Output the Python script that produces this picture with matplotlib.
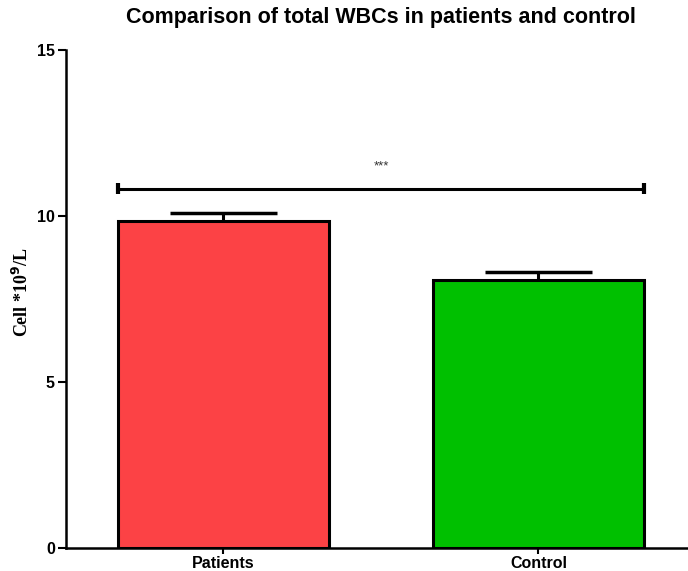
import matplotlib
matplotlib.use("Agg")
import matplotlib.pyplot as plt

categories = ["Patients", "Control"]
means = [9.85, 8.07]
sems = [0.24, 0.24]
colors = ["#FC4245", "#00C000"]
sig_y = 10.82
sig_text = "***"
title = "Comparison of total WBCs in patients and control"
ylabel = r"Cell *10$^{\mathbf{9}}$/L"

plt.rcParams['font.family'] = ['Liberation Sans', 'DejaVu Sans']

fig = plt.figure(figsize=(6.88, 5.71), dpi=100)
W, H = 688, 571
left, right, bottom, top = 66, 688, 548, 50
ax = fig.add_axes([left / W, 1 - bottom / H, (right - left) / W, (bottom - top) / H])

x = list(range(len(categories)))
width = 0.67
ax.bar(x, means, width=width, color=colors, edgecolor='black', linewidth=2.2, zorder=2)
ax.errorbar(x, means, yerr=[[0] * len(sems), sems], fmt='none', ecolor='black',
            elinewidth=2.2, capsize=0, zorder=1)
for xi, m, s in zip(x, means, sems):
    ax.plot([xi - 0.17, xi + 0.17], [m + s, m + s], color='black', lw=2.5, zorder=1,
            solid_capstyle='butt')

# significance bar
x0 = x[0] - width / 2
x1 = x[1] + width / 2
ax.plot([x0, x1], [sig_y, sig_y], color='black', lw=2.2, solid_capstyle='butt')
for xe in (x0, x1):
    ax.plot([xe, xe], [sig_y - 0.17, sig_y + 0.17], color='black', lw=3, solid_capstyle='butt')
ax.text((x0 + x1) / 2, sig_y + 0.68, sig_text, ha='center', va='center', fontsize=9.5, color='#333333')

ax.set_xlim(-0.5, 1.475)
ax.set_ylim(0, 15)
ax.set_yticks([0, 5, 10, 15])
ax.set_xticks(x)
ax.set_xticklabels(categories, fontsize=11.5, fontweight='bold')
for lbl in ax.get_yticklabels():
    lbl.set_fontweight('bold')
    lbl.set_fontsize(11.5)

ax.spines['top'].set_visible(False)
ax.spines['right'].set_visible(False)
ax.spines['left'].set_linewidth(1.8)
ax.spines['bottom'].set_linewidth(1.8)
ax.tick_params(axis='y', length=6, width=1.5, pad=2)
ax.tick_params(axis='x', length=4, width=1.5, pad=2)

fig.text(22 / W, 1 - 292 / H, ylabel, rotation=90, ha='center', va='center',
         fontsize=13, fontweight='bold', family=['Liberation Serif', 'DejaVu Serif'])
fig.text(381 / W, 1 - 18 / H, title, ha='center', va='center', fontsize=15.5, fontweight='bold')

fig.savefig("out.png", dpi=100)
